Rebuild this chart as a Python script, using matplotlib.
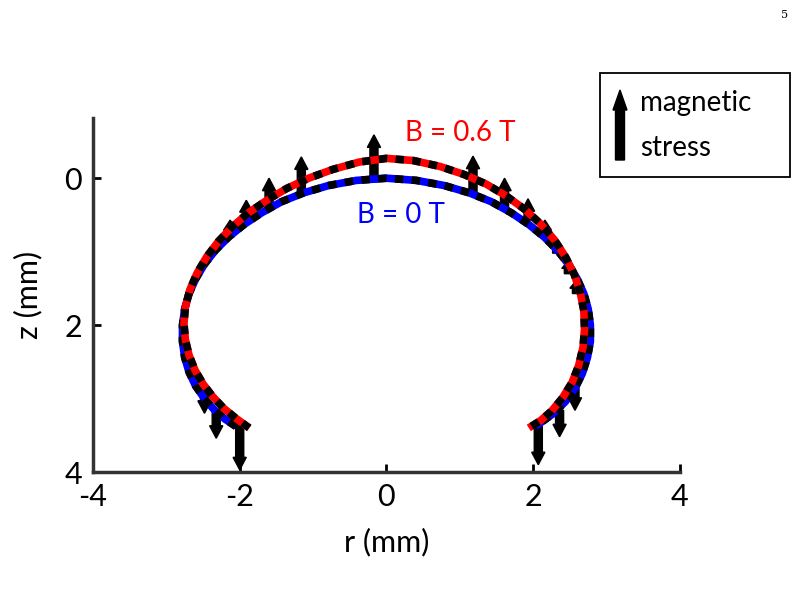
import matplotlib
matplotlib.use("Agg")
import matplotlib.pyplot as plt
from matplotlib.patches import Rectangle, FancyArrow

plt.rcParams['font.family'] = ['Lato', 'DejaVu Sans']
plt.rcParams['axes.unicode_minus'] = False

blue_r = [-2.05,-2.2,-2.35,-2.48,-2.6,-2.69,-2.75,-2.78,-2.78,-2.75,-2.69,-2.6,-2.48,-2.33,-2.15,-1.94,-1.7,-1.43,-1.13,-0.79,-0.41,0,
          0.41,0.79,1.13,1.43,1.7,1.94,2.15,2.33,2.48,2.6,2.69,2.75,2.78,2.78,2.74,2.67,2.57,2.44,2.28,2.1,2.0]
blue_z = [3.38,3.28,3.15,3.0,2.83,2.64,2.44,2.22,2.0,1.78,1.57,1.37,1.17,0.98,0.8,0.63,0.47,0.32,0.2,0.1,0.03,0,
          0.03,0.1,0.2,0.32,0.47,0.63,0.8,0.98,1.17,1.37,1.57,1.78,2.0,2.22,2.44,2.66,2.86,3.04,3.2,3.33,3.4]
red_r = [-1.87,-2.05,-2.22,-2.37,-2.5,-2.61,-2.69,-2.74,-2.76,-2.74,-2.68,-2.58,-2.45,-2.29,-2.1,-1.88,-1.63,-1.36,-1.06,-0.73,-0.37,0,
         0.37,0.73,1.06,1.36,1.63,1.88,2.1,2.29,2.44,2.56,2.64,2.69,2.7,2.68,2.62,2.53,2.4,2.25,2.1,1.94]
red_z = [3.40,3.27,3.13,2.97,2.8,2.61,2.41,2.2,1.98,1.75,1.52,1.29,1.07,0.86,0.66,0.47,0.3,0.14,0.0,-0.12,-0.22,-0.27,
         -0.24,-0.16,-0.05,0.08,0.24,0.42,0.62,0.84,1.07,1.31,1.55,1.8,2.05,2.3,2.55,2.78,2.99,3.17,3.3,3.4]

arrow_r = [-0.17,-1.16,-1.60,-1.91,-2.13,1.18,1.61,1.93,2.16,2.32,2.48,2.59,-2.00,-2.32,-2.48,2.07,2.36,2.57]
arrow_z = [0.05,0.23,0.41,0.57,0.80,0.23,0.39,0.57,0.80,1.02,1.30,1.57,3.34,3.16,2.88,3.38,3.16,2.84]
arrow_dz = [-0.64,-0.52,-0.41,-0.27,-0.23,-0.53,-0.39,-0.29,-0.23,-0.18,-0.18,-0.18,0.63,0.38,0.32,0.52,0.36,0.32]

fig = plt.figure(figsize=(7.98, 5.89), dpi=100)
ax = fig.add_axes([0.1165, 0.1986, 0.7355, 0.6011])

for r, z, dz in zip(arrow_r, arrow_z, arrow_dz):
    ax.add_patch(FancyArrow(r, z, 0, dz, width=0.11, head_width=0.18,
                            head_length=min(0.17, abs(dz)*0.6), length_includes_head=True,
                            color='black', zorder=2))

ax.plot(blue_r, blue_z, color='blue', lw=5.5, solid_capstyle='butt', zorder=3)
ax.plot(blue_r, blue_z, color='black', lw=5.5, dashes=(1.1, 1.1), zorder=4)
ax.plot(red_r, red_z, color='red', lw=5.5, solid_capstyle='butt', zorder=5)
ax.plot(red_r, red_z, color='black', lw=5.5, dashes=(1.1, 1.1), zorder=6)

ax.text(1.0, -0.62, 'B = 0.6 T', color='red', fontsize=20, ha='center', va='center')
ax.text(0.2, 0.5, 'B = 0 T', color='blue', fontsize=20, ha='center', va='center')

ax.set_xlim(-4, 4)
ax.set_ylim(4, -0.82)
ax.set_xticks([-4, -2, 0, 2, 4])
ax.set_yticks([0, 2, 4])
ax.tick_params(direction='in', labelsize=22, width=2, length=6, pad=8)
for s in ['top', 'right']:
    ax.spines[s].set_visible(False)
for s in ['left', 'bottom']:
    ax.spines[s].set_linewidth(2.5)
    ax.spines[s].set_color('#333333')
ax.set_xlabel('r (mm)', fontsize=22, labelpad=12)
ax.set_ylabel('z (mm)', fontsize=22, labelpad=16)

# legend box
fig.patches.append(Rectangle((600/798, 1-177/589), 190/798, 104/589, transform=fig.transFigure,
                             fill=False, edgecolor='black', lw=1.3))
fig.patches.append(FancyArrow(620/798, 1-160/589, 0, 70/589, width=9/798, head_width=14/798,
                              head_length=20/589, length_includes_head=True, color='black',
                              transform=fig.transFigure))
fig.text(640/798, 1-103/589, 'magnetic', fontsize=20, va='center')
fig.text(640/798, 1-148/589, 'stress', fontsize=20, va='center')
fig.text(785/798, 1-15/589, '5', fontsize=8, family='DejaVu Serif', ha='center', va='center')

fig.savefig('out.png', dpi=100)
